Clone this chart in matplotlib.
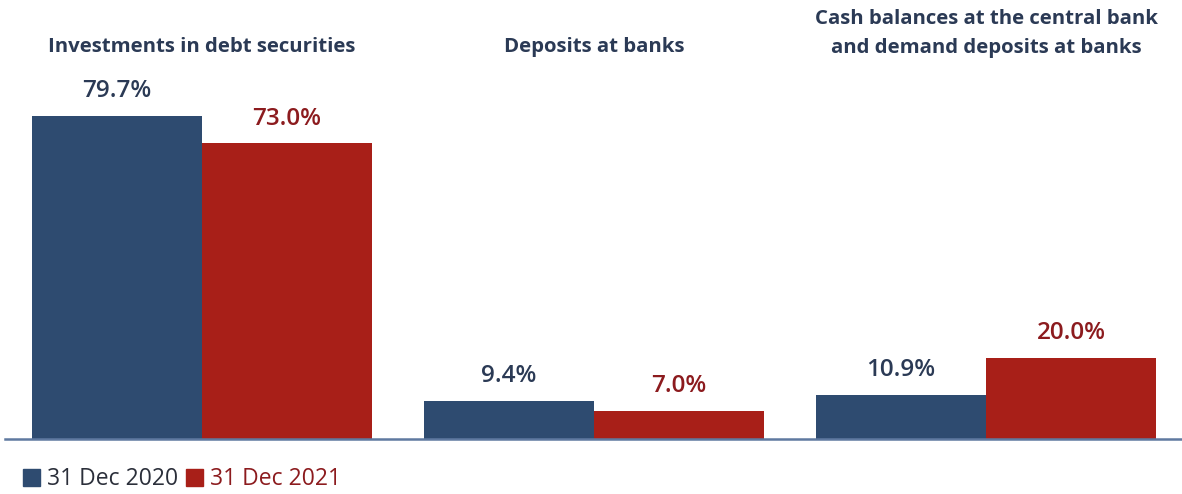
import matplotlib
matplotlib.use("Agg")
import matplotlib.pyplot as plt
from matplotlib.patches import Patch
import numpy as np

categories = ["Investments in debt securities", "Deposits at banks",
              "Cash balances at the central bank\nand demand deposits at banks"]
series_names = ["31 Dec 2020", "31 Dec 2021"]
values_2020 = [79.7, 9.4, 10.9]
values_2021 = [73.0, 7.0, 20.0]

BAR_COLORS = ["#2e4b70", "#a81f18"]
TEXT_COLORS = ["#2b3a55", "#8c1b1e"]
TITLE_COLOR = "#2b3a55"

plt.rcParams["font.family"] = ["Open Sans", "DejaVu Sans"]

fig = plt.figure(figsize=(11.82, 4.94), dpi=100)
ax = fig.add_axes([5 / 1182, 1 - 439 / 494, 1 - 5 / 1182, 439 / 494])

x = np.arange(len(categories))
width = 0.434
for i, (vals, name) in enumerate([(values_2020, series_names[0]), (values_2021, series_names[1])]):
    offs = (i - 0.5) * width
    bars = ax.bar(x + offs, vals, width, color=BAR_COLORS[i], label=name)
    for b, v in zip(bars, vals):
        ax.annotate(f"{v:.1f}%", (b.get_x() + b.get_width() / 2, v),
                    xytext=(0, 9), textcoords="offset points",
                    ha="center", va="bottom", fontsize=17.5,
                    fontweight="semibold", color=TEXT_COLORS[i])

ax.set_xlim(-0.5026, 2.5)
ax.set_ylim(0, 108.3)

# category headings above each group
for xi, cat in zip(x, categories):
    ax.text(xi, 96.8 if "\n" not in cat else 100.0, cat, ha="center", va="center",
            fontsize=14.7, fontweight="bold", color=TITLE_COLOR, linespacing=1.6)

for s in ["top", "right", "left"]:
    ax.spines[s].set_visible(False)
ax.spines["bottom"].set_color("#5f79a0")
ax.spines["bottom"].set_linewidth(1.8)
ax.set_xticks([])
ax.set_yticks([])

handles = [Patch(color=c) for c in BAR_COLORS]
leg = fig.legend(handles, series_names, loc="center left", bbox_to_anchor=(0.002, 0.03),
                 ncol=2, frameon=False, fontsize=16.5, handlelength=0.75, handleheight=0.75,
                 handletextpad=0.3, columnspacing=0.35)
for t, c in zip(leg.get_texts(), ["#2b2f3a", TEXT_COLORS[1]]):
    t.set_color(c)

fig.savefig("out.png", dpi=100)
